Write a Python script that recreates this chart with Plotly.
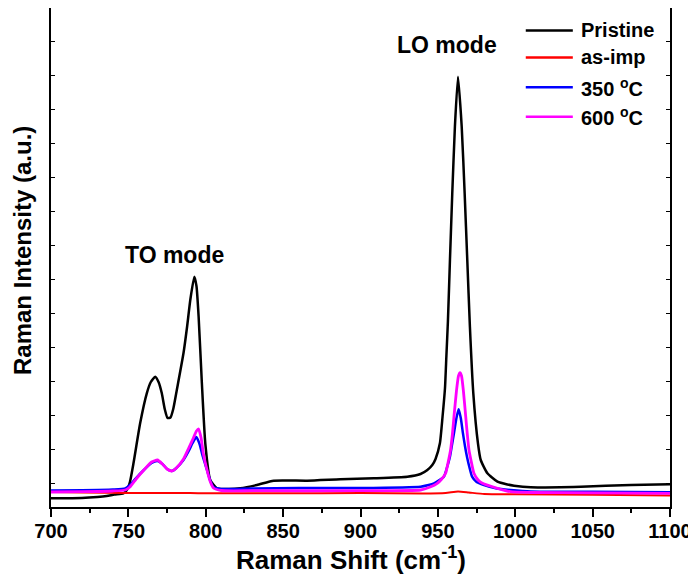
import plotly.graph_objects as go

# ---------------- data ----------------
pristine_x = [700, 710, 720, 730, 736, 741, 746.8, 749, 751, 753.3, 757.6, 761.9, 764.5,
              767.3, 769.5, 771.6, 773.5, 775.3, 777.2, 779, 781.3, 785.6, 788, 790, 792.6,
              794, 795.4, 797.5, 799.7, 802.9, 807.2, 815, 822.3, 833.1, 843.9, 865.5, 887,
              908.6, 930.2, 938.8, 943.2, 946.4, 948.5, 951.3, 953, 954.6, 955.5, 956.5,
              957.8, 959.3, 961, 963, 965.4, 967.3, 969, 970.7, 972.9, 975.9, 977.7,
              982, 988.5, 994.9, 999.2, 1010, 1042.4, 1074.8, 1100]
pristine_y = [7.7, 7.8, 8.0, 9.0, 10.0, 11.5, 12.7, 16, 24, 42.7, 82.7, 112.7, 124,
              129.3, 124, 112.7, 97, 88, 88.5, 97, 116, 152.7, 180, 206, 229.3,
              220, 189.3, 122.7, 62.7, 26, 17.7, 17, 17.7, 21, 25.3, 25.3, 26.7,
              27.7, 29.3, 32, 36, 41, 47, 62.7, 89, 118, 150, 185,
              246, 312.7, 379.3, 429.3, 379.3, 312.7, 246, 179.3, 112.7, 62.7, 46,
              32.7, 24.3, 21.5, 20.3, 18.7, 19.3, 21, 21.7]

asimp_x = [700, 720, 750, 790, 800, 850, 900, 940, 955, 963, 970, 980, 1000, 1050, 1100]
asimp_y = [14, 13.5, 13, 13, 12.7, 12.7, 13, 12.5, 13, 14.5, 13.5, 12, 11.7, 11.2, 10.5]

c350_x = [700, 720, 740, 748, 751, 755, 760, 765, 768.8, 772, 775, 778.1, 781, 785.6,
          789, 791.5, 793.9, 796, 798, 800.8, 803, 805, 810, 830, 860, 900, 938.8,
          944, 947.5, 951, 953.9, 955.8, 957.8, 959, 960.4, 962, 963.4, 964.8, 966.2,
          967.5, 968.8, 970.5, 972.1, 975, 979.8, 988, 997, 1010, 1050, 1100]
c350_y = [15.5, 15.8, 16.5, 17.5, 21, 28, 36, 43, 45, 42, 37, 35, 38, 46,
          55, 63, 69, 62, 50, 36, 25, 19, 17, 17.5, 18, 18, 19.3,
          21, 22.7, 26, 29.3, 38, 49.3, 60, 72.7, 88, 96.7, 88, 72.7,
          60, 49.3, 38, 29.3, 24, 21, 17.5, 16, 14.5, 14.2, 13.7]

c600_x = [700, 720, 740, 748, 751, 755, 760, 765, 768.8, 772, 775, 778.1, 781, 785.6,
          789, 792, 794, 795.4, 797, 798.5, 800.8, 803, 805, 810, 830, 900, 938.8,
          945, 949.6, 952.5, 955, 956.8, 958.2, 959.4, 960.4, 962, 963.3, 964.3,
          965.3, 966.5, 968, 969, 970.1, 971.5, 973.3, 976, 978.8, 988.5, 997,
          1010, 1050, 1100]
c600_y = [14, 14.3, 15, 16, 19, 27, 36, 44, 46, 42, 37, 35, 38, 47,
          58, 68, 75, 77, 68, 52, 36, 24, 18, 15.5, 15.3, 15.3, 16,
          19, 22.7, 27, 32.7, 45, 56, 72, 89.3, 115, 130, 133.3,
          130, 115, 89.3, 72, 56, 45, 32.7, 26, 22.7, 17.7, 14.3,
          13.5, 13.2, 12.7]

series_names = ["Pristine", "as-imp", "350 <sup>o</sup>C", "600 <sup>o</sup>C"]
series_colors = ["#000000", "#ff0000", "#0000ff", "#ff00ff"]
series_x = [pristine_x, asimp_x, c350_x, c600_x]
series_y = [pristine_y, asimp_y, c350_y, c600_y]

x_ticks = [700, 750, 800, 850, 900, 950, 1000, 1050, 1100]
x_range = [700, 1100]
y_range = [-1, 498]

FONT = "Liberation Sans, Arial, Helvetica, sans-serif"

fig = go.Figure()
widths = [2.5, 2, 2.5, 2.8]
for name, col, xs, ys, w in zip(series_names, series_colors, series_x, series_y, widths):
    fig.add_trace(go.Scatter(x=xs, y=ys, mode="lines", name=name,
                             line=dict(color=col, width=w, shape="spline", smoothing=0.5),
                             showlegend=False))

# manual legend (line samples + labels)
legend_rows = [0.955, 0.901, 0.841, 0.782]
shapes = []
annotations = []
for name, col, yp in zip(series_names, series_colors, legend_rows):
    shapes.append(dict(type="line", xref="paper", yref="paper",
                       x0=0.767, x1=0.843, y0=yp, y1=yp,
                       line=dict(color=col, width=2.5)))
    annotations.append(dict(xref="paper", yref="paper", x=0.853, y=yp,
                            xanchor="left", yanchor="middle", showarrow=False,
                            text=name, font=dict(family=FONT, size=20, color="black",
                                                  weight="bold")))

annotations.append(dict(x=780, y=251, xref="x", yref="y", text="TO mode", showarrow=False,
                        font=dict(family=FONT, size=23, color="black", weight="bold")))
annotations.append(dict(x=956, y=461, xref="x", yref="y", text="LO mode", showarrow=False,
                        font=dict(family=FONT, size=23, color="black", weight="bold")))
annotations.append(dict(xref="paper", yref="paper", x=-0.046, y=0.514, textangle=-90,
                        xanchor="center", yanchor="middle", showarrow=False,
                        text="Raman Intensity (a.u.)",
                        font=dict(family=FONT, size=24, color="black", weight="bold")))
annotations.append(dict(xref="paper", yref="paper", x=0.485, y=-0.103,
                        xanchor="center", yanchor="middle", showarrow=False,
                        text="Raman Shift (cm<sup>-1</sup>)",
                        font=dict(family=FONT, size=26, color="black", weight="bold")))

# the page body adds an 8 px offset, so the figure is 8 px smaller and shifted margins
fig.update_layout(
    width=688, height=569,
    margin=dict(l=43, r=26, t=0, b=70, autoexpand=False),
    paper_bgcolor="white", plot_bgcolor="white",
    shapes=shapes, annotations=annotations,
    xaxis=dict(range=x_range, tickvals=x_ticks, ticks="outside", ticklen=8, tickwidth=1.5,
               tickcolor="black", showline=True, linecolor="black", linewidth=2,
               mirror=True, showgrid=False, zeroline=False, automargin=False,
               ticklabelstandoff=-3,
               tickfont=dict(family=FONT, size=20, color="black", weight="bold"),
               minor=dict(ticks="outside", ticklen=4, dtick=25, tick0=700,
                          tickcolor="black", tickwidth=1.5, showgrid=False)),
    yaxis=dict(range=y_range, showticklabels=False, ticks="inside", ticklen=4,
               tick0=23, dtick=34, tickcolor="black", tickwidth=1, automargin=False,
               showline=True, linecolor="black", linewidth=2, mirror="allticks",
               showgrid=False, zeroline=False),
)

fig.write_html("out.html")
